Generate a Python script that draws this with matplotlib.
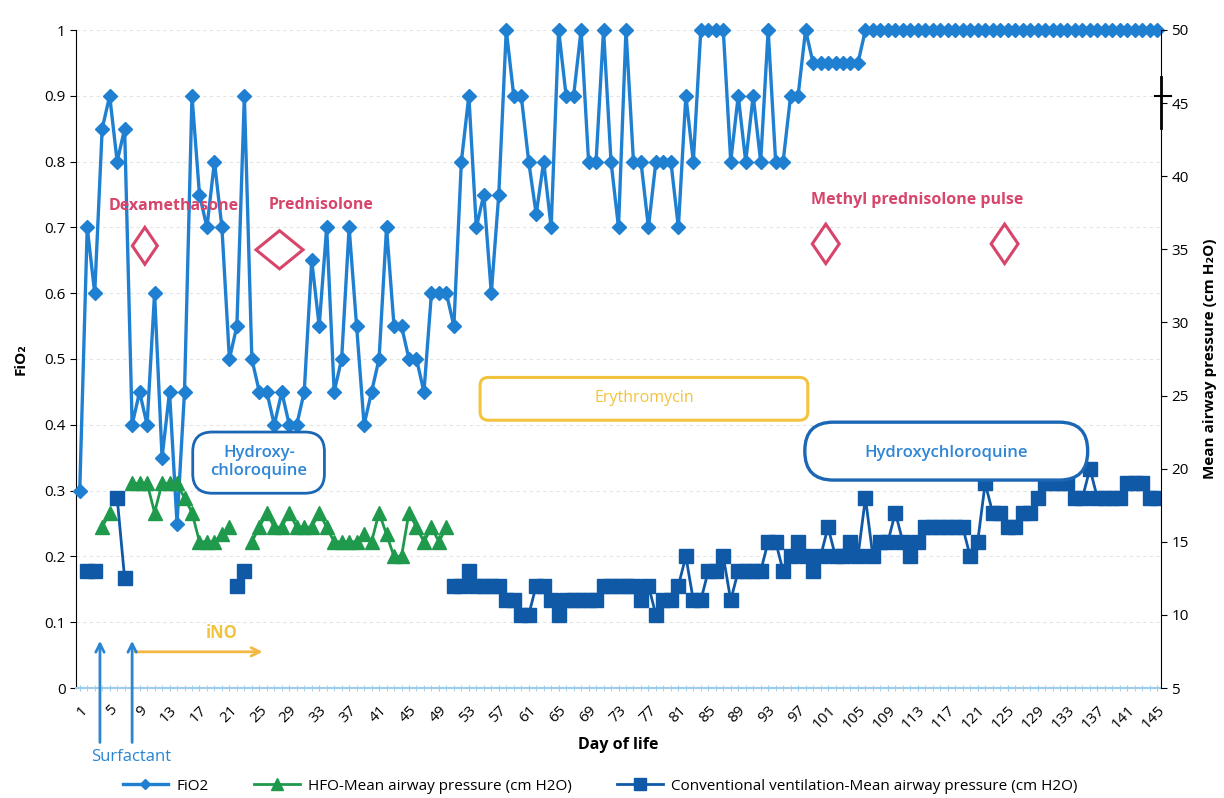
import numpy as np
import matplotlib
matplotlib.use('Agg')
import matplotlib.pyplot as plt
from matplotlib.patches import FancyBboxPatch, Polygon

plt.rcParams['font.family'] = ['Open Sans', 'DejaVu Sans']

# ---- data ----
days = list(range(1, 146))

fio2 = [0.3, 0.7, 0.6, 0.85, 0.9, 0.8, 0.85, 0.4, 0.45, 0.4,
        0.6, 0.35, 0.45, 0.25, 0.45, 0.9, 0.75, 0.7, 0.8, 0.7,
        0.5, 0.55, 0.9, 0.5, 0.45, 0.45, 0.4, 0.45, 0.4, 0.4,
        0.45, 0.65, 0.55, 0.7, 0.45, 0.5, 0.7, 0.55, 0.4, 0.45,
        0.5, 0.7, 0.55, 0.55, 0.5, 0.5, 0.45, 0.6, 0.6, 0.6,
        0.55, 0.8, 0.9, 0.7, 0.75, 0.6, 0.75, 1.0, 0.9, 0.9,
        0.8, 0.72, 0.8, 0.7, 1.0, 0.9, 0.9, 1.0, 0.8, 0.8,
        1.0, 0.8, 0.7, 1.0, 0.8, 0.8, 0.7, 0.8, 0.8, 0.8,
        0.7, 0.9, 0.8, 1.0, 1.0, 1.0, 1.0, 0.8, 0.9, 0.8,
        0.9, 0.8, 1.0, 0.8, 0.8, 0.9, 0.9, 1.0, 0.95, 0.95,
        0.95, 0.95, 0.95, 0.95, 0.95, 1.0, 1.0, 1.0, 1.0, 1.0,
        1.0, 1.0, 1.0, 1.0, 1.0, 1.0, 1.0, 1.0, 1.0, 1.0,
        1.0, 1.0, 1.0, 1.0, 1.0, 1.0, 1.0, 1.0, 1.0, 1.0,
        1.0, 1.0, 1.0, 1.0, 1.0, 1.0, 1.0, 1.0, 1.0, 1.0,
        1.0, 1.0, 1.0, 1.0, 1.0]

N = None
hfo = [N, N, N, 16, 17, N, N, 19, 19, 19,
       17, 19, 19, 19, 18, 17, 15, 15, 15, 15.5,
       16, N, N, 15, 16, 17, 16, 16, 17, 16,
       16, 16, 17, 16, 15, 15, 15, 15, 15.5, 15,
       17, 15.5, 14, 14, 17, 16, 15, 16, 15, 16] + [N] * 95

conv = [N, 13, 13, N, N, 18, 12.5, N, N, N,
        N, N, N, N, N, N, N, N, N, N,
        N, 12, 13, N, N, N, N, N, N, N,
        N, N, N, N, N, N, N, N, N, N,
        N, N, N, N, N, N, N, N, N, N,
        12, 12, 13, 12, 12, 12, 12, 11, 11, 10,
        10, 12, 12, 11, 10, 11, 11, 11, 11, 11,
        12, 12, 12, 12, 12, 11, 12, 10, 11, 11,
        12, 14, 11, 11, 13, 13, 14, 11, 13, 13,
        13, 13, 15, 15, 13, 14, 15, 14, 13, 14,
        16, 14, 14, 15, 14, 18, 14, 15, 15, 17,
        15, 14, 15, 16, 16, 16, 16, 16, 16, 14,
        15, 19, 17, 17, 16, 16, 17, 17, 18, 19,
        19, 19, 19, 18, 18, 20, 18, 18, 18, 18,
        19, 19, 19, 18, 18]

hfo = np.array([np.nan if v is None else v for v in hfo], dtype=float)
conv = np.array([np.nan if v is None else v for v in conv], dtype=float)

c_fio2 = '#1f80d2'
c_hfo = '#1f9a4c'
c_conv = '#0f59a6'
c_pink = '#d8456b'
c_yellow = '#f3c33d'
c_text_blue = '#2f86d6'
c_box_blue = '#1b66b5'

fig = plt.figure(figsize=(12.24, 7.98), dpi=100)
ax = fig.add_axes([76 / 1224, 1 - 688 / 798, 1085 / 1224, 658 / 798])
ax2 = ax.twinx()

ax.set_xlim(0.5, 145.5)
ax.set_ylim(0, 1)
ax2.set_ylim(5, 50)

ax.yaxis.grid(True, color='#e4e4e4', ls=(0, (3, 3)), lw=0.8)
ax.set_axisbelow(True)

l1, = ax.plot(days, fio2, color=c_fio2, lw=2.4, marker='D', ms=7,
              clip_on=False, zorder=3, label='FiO2')
l2, = ax2.plot(days, hfo, color=c_hfo, lw=2, marker='^', ms=10.5,
               label='HFO-Mean airway pressure (cm H2O)')
l3, = ax2.plot(days, conv, color=c_conv, lw=2, marker='s', ms=10,
               label='Conventional ventilation-Mean airway pressure (cm H2O)')

# axes styling
for a in (ax, ax2):
    a.spines['top'].set_visible(False)
ax2.spines['left'].set_visible(False)
ax2.spines['bottom'].set_visible(False)
ax.spines['right'].set_visible(False)
ax.spines['bottom'].set_color('#9ccbeb')
ax.spines['bottom'].set_linewidth(1.5)

ax.set_yticks(np.arange(0, 1.01, 0.1))
ax.set_yticklabels(['0', '0.1', '0.2', '0.3', '0.4', '0.5', '0.6', '0.7', '0.8', '0.9', '1'])
ax2.set_yticks(range(5, 51, 5))
ax.tick_params(axis='y', labelsize=11, length=4)
ax2.tick_params(axis='y', labelsize=11, length=4)

ax.set_xticks(range(1, 146, 4))
ax.set_xticks(range(1, 146), minor=True)
ax.set_xticklabels([str(d) for d in range(1, 146, 4)], rotation=45,
                   ha='right', rotation_mode='anchor')
ax.tick_params(axis='x', which='both', direction='inout', length=5,
               color='#9ccbeb', labelsize=11, pad=8)

ax.set_ylabel('FiO₂', fontsize=11, fontweight='bold', labelpad=12)
ax2.set_ylabel('Mean airway pressure (cm H₂O)', fontsize=11, fontweight='bold', labelpad=10)
ax.set_xlabel('Day of life', fontsize=11.5, fontweight='bold', labelpad=4)

# stray mark near the 45 tick on the right axis
ax2.plot([145.5, 145.5], [43.3, 46.8], color='black', lw=2, clip_on=False)
ax2.plot([144.7, 146.8], [45.5, 45.5], color='black', lw=1.5, clip_on=False)

# ---- annotations ----
T = ax.transData
asp = (1 / 658) / (145 / 1085)   # y-units per x-unit, for round corners


def box(x0, y0, w, h, r, color, lw):
    p = FancyBboxPatch((x0, y0), w, h, boxstyle=f'round,pad=0,rounding_size={r}',
                       mutation_aspect=asp, transform=T, facecolor='white',
                       edgecolor=color, lw=lw, zorder=6)
    ax2.add_patch(p)


def diamond(cx, cy, hw, hh):
    p = Polygon([(cx - hw, cy), (cx, cy + hh), (cx + hw, cy), (cx, cy - hh)],
                closed=True, fill=False, edgecolor=c_pink, lw=2.2,
                transform=T, zorder=6)
    ax2.add_patch(p)


ax2.text(13.5, 0.733, 'Dexamethasone', transform=T, color=c_pink, fontsize=11.5,
         fontweight='bold', ha='center', va='center', zorder=7)
ax2.text(33.3, 0.734, 'Prednisolone', transform=T, color=c_pink, fontsize=11.5,
         fontweight='bold', ha='center', va='center', zorder=7)
ax2.text(112.9, 0.742, 'Methyl prednisolone pulse', transform=T, color=c_pink,
         fontsize=11.5, fontweight='bold', ha='center', va='center', zorder=7)
diamond(9.7, 0.672, 1.67, 0.028)
diamond(27.7, 0.666, 3.14, 0.029)
diamond(100.7, 0.675, 1.8, 0.030)
diamond(124.6, 0.675, 1.8, 0.030)

box(16.1, 0.296, 17.6, 0.093, 2.6, c_box_blue, 2.0)
ax2.text(24.95, 0.343, 'Hydroxy-\nchloroquine', transform=T, color=c_text_blue,
         fontsize=12, fontweight='semibold', ha='center', va='center',
         linespacing=1.15, zorder=7)

box(54.5, 0.407, 43.8, 0.065, 1.1, c_yellow, 2.2)
ax2.text(76.4, 0.44, 'Erythromycin', transform=T, color=c_yellow, fontsize=11.5,
         ha='center', va='center', zorder=7)

box(97.9, 0.316, 37.8, 0.088, 3.8, c_box_blue, 2.4)
ax2.text(116.8, 0.357, 'Hydroxychloroquine', transform=T, color=c_text_blue,
         fontsize=12, fontweight='semibold', ha='center', va='center', zorder=7)

ax2.text(20.0, 0.084, 'iNO', transform=T, color=c_yellow, fontsize=12,
         fontweight='bold', ha='center', va='center', zorder=7)
ax2.annotate('', xy=(25.8, 0.055), xytext=(8.0, 0.055), xycoords=T, textcoords=T,
             arrowprops=dict(arrowstyle='->,head_length=0.6,head_width=0.3',
                             color='#f3b843', lw=2), zorder=7)

for d in (3.7, 8.0):
    ax2.annotate('', xy=(d, 0.076), xytext=(d, -0.087), xycoords=T, textcoords=T,
                 arrowprops=dict(arrowstyle='->,head_length=0.6,head_width=0.3',
                                 color='#2b85d0', lw=2),
                 annotation_clip=False, zorder=7)
ax2.text(7.85, -0.105, 'Surfactant', transform=T, color='#2b85d0', fontsize=12,
         ha='center', va='center', clip_on=False)

fig.legend(handles=[l1, l2, l3], loc='center', bbox_to_anchor=(0.49, 0.015),
           ncol=3, frameon=False, fontsize=11, handlelength=3,
           columnspacing=3.0, handletextpad=0.5, markerscale=0.8)

fig.savefig('out.png', dpi=100)
